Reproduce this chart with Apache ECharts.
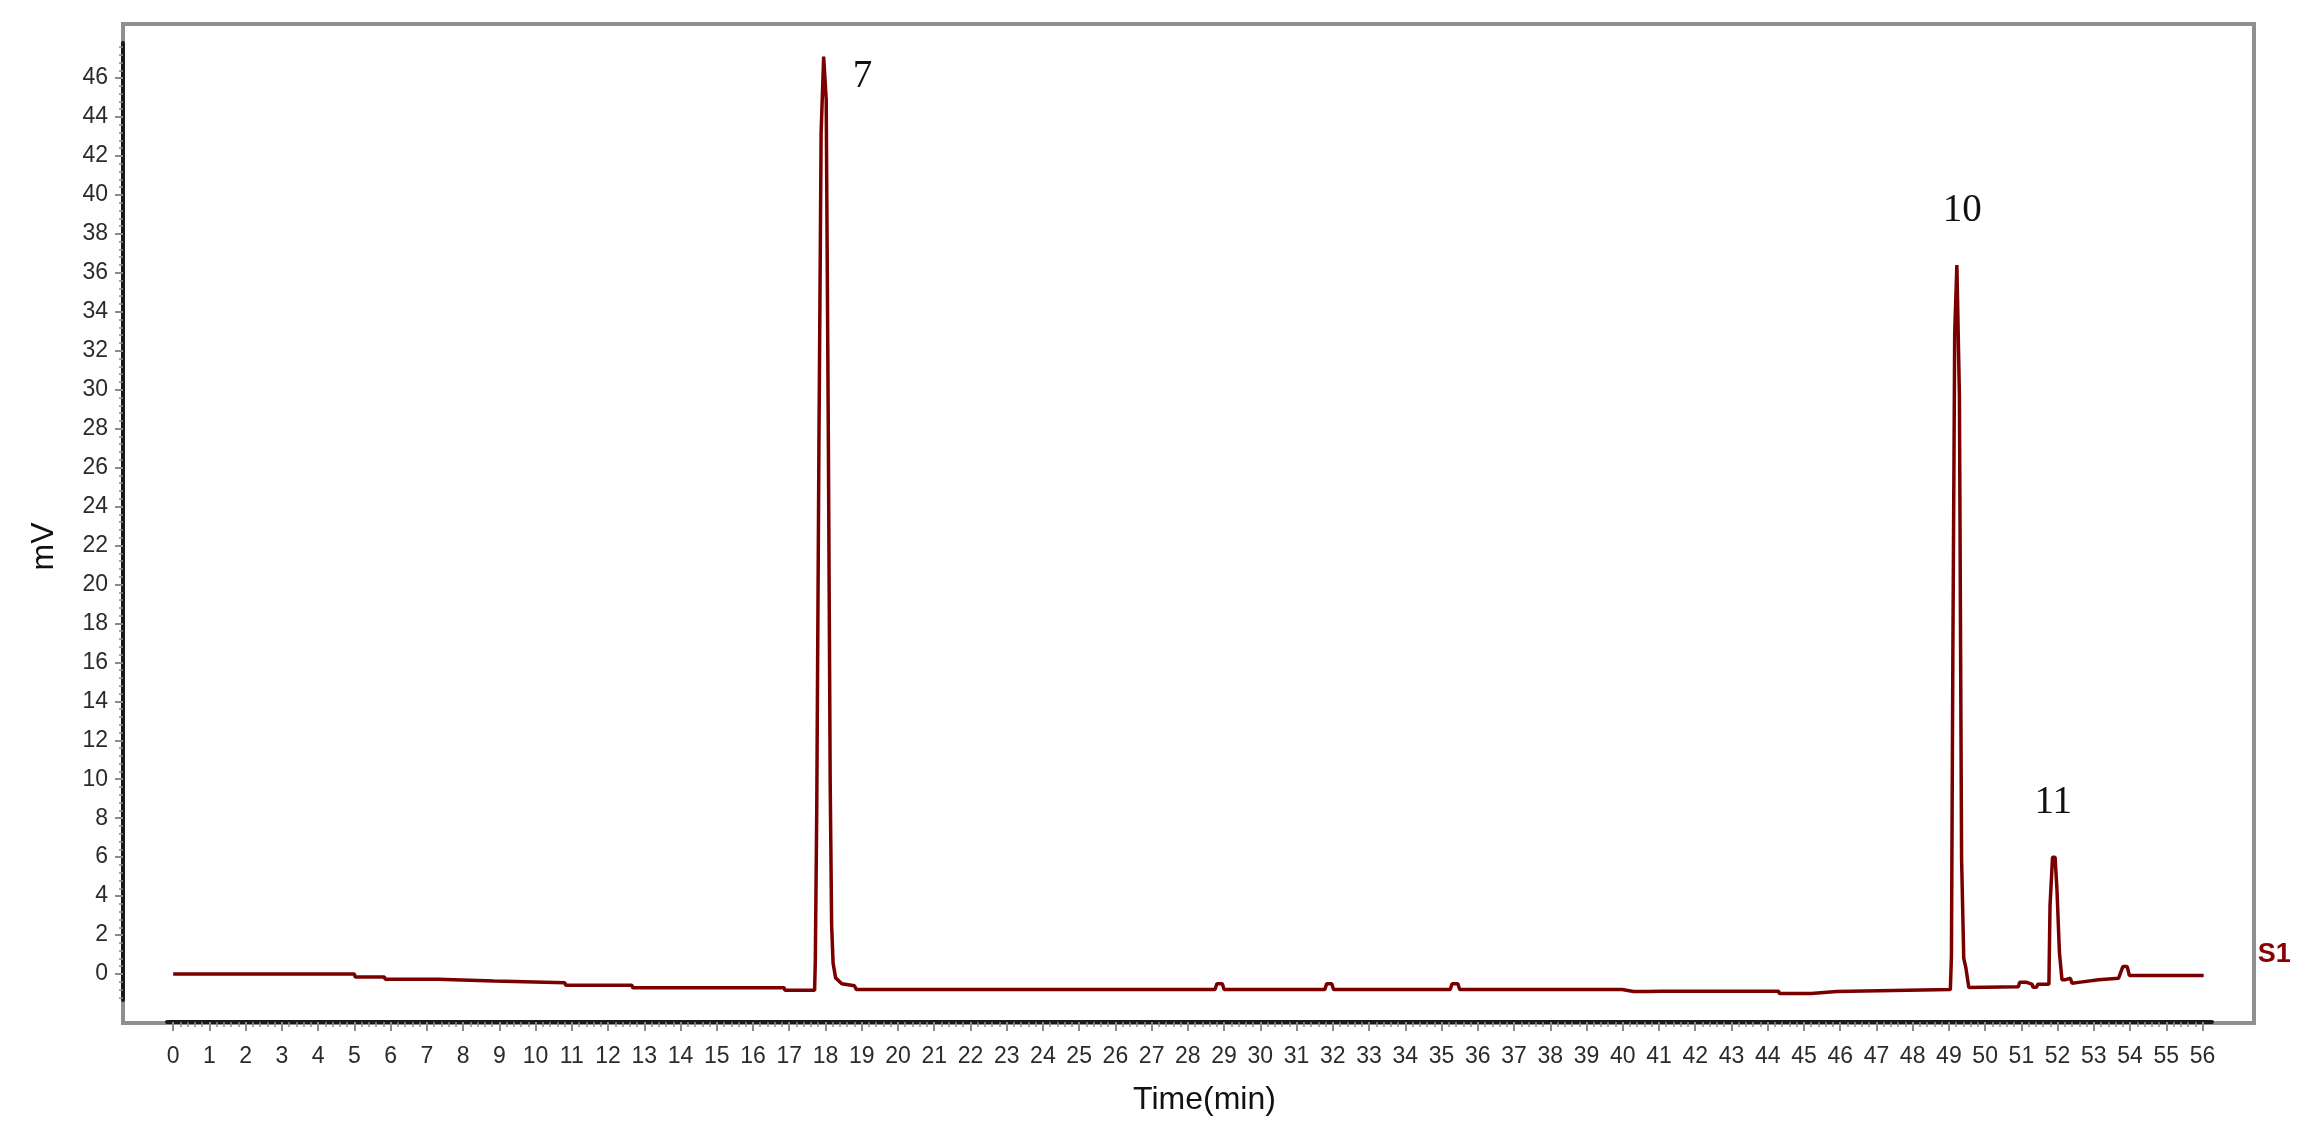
<!DOCTYPE html>
<html>
<head>
<meta charset="utf-8">
<title>Chromatogram S1</title>
<script src="https://cdn.jsdelivr.net/npm/echarts@6/dist/echarts.min.js"></script>
<style>
  html, body { margin: 0; padding: 0; background: #fff; }
  #chart { width: 2309px; height: 1144px; }
</style>
</head>
<body>
<div id="chart"></div>
<script>
// retention time (min) of each trace point
const timeMin = [
  // baseline before peak 7
  0, 5.0, 5.02, 5.83, 5.85, 7.31, 7.33, 8.85, 8.87, 10.81, 10.83, 12.66, 12.68, 16.86, 16.88, 17.70,
  // peak 7
  17.72, 17.76, 17.82, 17.88, 17.95, 18.02, 18.08, 18.13, 18.17, 18.21, 18.28, 18.45, 18.80, 18.85,
  // long baseline
  22.38, 22.42, 22.46, 28.75, 28.80, 28.95, 29.00, 31.78, 31.83, 31.97, 32.02, 35.24, 35.29, 35.45, 35.50,
  39.98, 40.02, 40.30, 40.35, 40.40, 40.60, 40.65, 40.70, 41.05, 44.30, 44.32, 45.20, 45.22, 45.90, 45.92, 49.04,
  // peak 10
  49.07, 49.11, 49.16, 49.22, 49.29, 49.35, 49.41, 49.47, 49.55,
  // baseline between 10 and 11
  50.92, 50.95, 51.15, 51.18, 51.30, 51.32, 51.42, 51.45, 51.76,
  // peak 11 and the tail
  51.79, 51.86, 51.93, 51.98, 52.05, 52.12, 52.20, 52.25, 52.35, 52.40, 52.58, 53.13, 53.68, 53.80, 53.92, 53.98, 56.03,
]

// detector signal (mV) at the same points
const signalMv = [
  0, 0, -0.15, -0.15, -0.27, -0.27, -0.36, -0.36, -0.45, -0.45, -0.58, -0.58, -0.70, -0.70, -0.84, -0.84,
  0.7, 8.6, 27.4, 43.2, 47.1, 44.9, 27.3, 9.9, 2.5, 0.56, -0.2, -0.5, -0.6, -0.8,
  -0.8, -0.72, -0.8, -0.8, -0.5, -0.5, -0.8, -0.8, -0.5, -0.5, -0.8, -0.8, -0.5, -0.5, -0.8,
  -0.8, -0.9, -0.9, -0.85, -0.9, -0.9, -0.85, -0.9, -0.88, -0.88, -1.0, -1.0, -0.9, -0.9, -0.8, -0.8,
  0.9, 16.7, 32.9, 36.4, 29.7, 5.9, 0.8, 0.3, -0.69,
  -0.65, -0.43, -0.43, -0.53, -0.53, -0.68, -0.68, -0.53, -0.53,
  3.5, 6.0, 6.0, 4.4, 1.1, -0.3, -0.3, -0.22, -0.22, -0.48, -0.43, -0.3, -0.22, 0.38, 0.38, -0.08, -0.08,
]

// peak numbers written over the trace
const peakNames = ['7', '10', '11']
const peakLabelTime = [19.02, 49.37, 51.88]
const peakLabelMv = [46.05, 39.2, 8.8]

const traceName = 'S1'

// ticks
const xTicks = Array.from({ length: 57 }, (_, i) => i)
const xMinorTicks = Array.from({ length: 281 }, (_, i) => +(i * 0.2).toFixed(1))
const yTicks = Array.from({ length: 24 }, (_, i) => i * 2)
const yMinorTicks = Array.from({ length: 123 }, (_, i) => +(-1.2 + i * 0.4).toFixed(1))

const X_MIN = -0.17, X_MAX = 56.26
const Y_MIN = -1.335, Y_MAX = 47.8

const SANS = '"Liberation Sans", Arial, sans-serif'
const SERIF = '"Liberation Serif", "Times New Roman", serif'
const AXIS_BLACK = '#1a1a1a'
const TICK_GRAY = '#8a8a8a'
const TRACE_RED = '#7a0000'

const chart = echarts.init(document.getElementById('chart'))

chart.setOption({
  animation: false,
  backgroundColor: '#fff',
  grid: { left: 167, right: 97, top: 43, bottom: 144, containLabel: false },
  graphic: [{
    type: 'rect',
    z: -10,
    shape: { x: 123, y: 24, width: 2131, height: 999 },
    style: { fill: 'none', stroke: '#8f8f8f', lineWidth: 4 },
  }],
  xAxis: [
    {
      type: 'value',
      min: X_MIN,
      max: X_MAX,
      position: 'bottom',
      offset: 22,
      name: 'Time(min)',
      nameLocation: 'middle',
      nameGap: 62,
      nameTextStyle: { fontFamily: SANS, fontSize: 32, color: '#111', padding: [0, 0, 0, 30] },
      axisLine: { show: true, onZero: false, lineStyle: { color: AXIS_BLACK, width: 4 } },
      axisTick: { show: true, customValues: xTicks, length: 9, lineStyle: { color: TICK_GRAY, width: 2 } },
      axisLabel: { customValues: xTicks, margin: 23, fontFamily: SANS, fontSize: 23, color: '#2b2b2b' },
      splitLine: { show: false },
    },
    {
      type: 'value',
      min: X_MIN,
      max: X_MAX,
      position: 'bottom',
      offset: 22,
      axisLine: { show: false, onZero: false },
      axisTick: { show: true, customValues: xMinorTicks, length: 5, lineStyle: { color: TICK_GRAY, width: 1.5 } },
      axisLabel: { show: false },
      splitLine: { show: false },
    },
  ],
  yAxis: [
    {
      type: 'value',
      min: Y_MIN,
      max: Y_MAX,
      position: 'left',
      offset: 44,
      name: 'mV',
      nameLocation: 'middle',
      nameGap: 63,
      nameTextStyle: { fontFamily: SANS, fontSize: 32, color: '#111', padding: [0, 50, 0, 0] },
      axisLine: { show: true, onZero: false, lineStyle: { color: AXIS_BLACK, width: 4 } },
      axisTick: { show: true, customValues: yTicks, length: 8, lineStyle: { color: TICK_GRAY, width: 2 } },
      axisLabel: { customValues: yTicks, margin: 15, fontFamily: SANS, fontSize: 23, color: '#2b2b2b' },
      splitLine: { show: false },
    },
    {
      type: 'value',
      min: Y_MIN,
      max: Y_MAX,
      position: 'left',
      offset: 44,
      axisLine: { show: false, onZero: false },
      axisTick: { show: true, customValues: yMinorTicks, length: 4, lineStyle: { color: TICK_GRAY, width: 1.5 } },
      axisLabel: { show: false },
      splitLine: { show: false },
    },
  ],
  series: [
    {
      name: traceName,
      type: 'line',
      xAxisIndex: 0,
      yAxisIndex: 0,
      data: timeMin.map((t, i) => [t, signalMv[i]]),
      symbol: 'none',
      lineStyle: { color: TRACE_RED, width: 3.5 },
      itemStyle: { color: TRACE_RED },
      endLabel: {
        show: true,
        formatter: traceName,
        color: '#8b0000',
        fontFamily: SANS,
        fontWeight: 'bold',
        fontSize: 27,
        offset: [46, -21],
      },
      markPoint: {
        symbol: 'circle',
        symbolSize: 1,
        itemStyle: { color: 'rgba(0,0,0,0)' },
        label: {
          show: true,
          position: 'inside',
          formatter: '{b}',
          fontFamily: SERIF,
          fontSize: 39,
          color: '#111',
        },
        data: peakNames.map((n, i) => ({ name: n, coord: [peakLabelTime[i], peakLabelMv[i]] })),
      },
    },
  ],
})

window.addEventListener('resize', () => chart.resize())
</script>
</body>
</html>
